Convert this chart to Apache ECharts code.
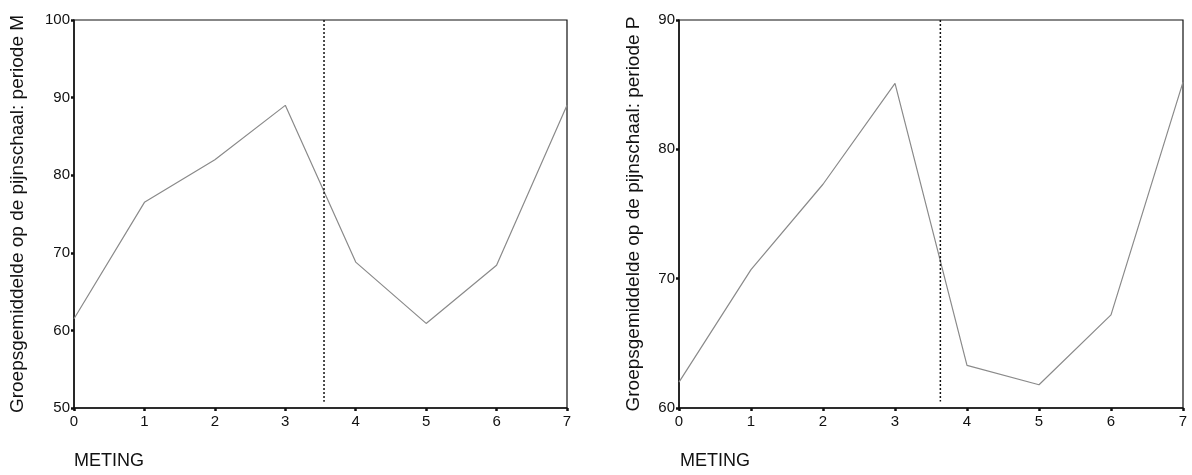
<!DOCTYPE html>
<html>
<head>
<meta charset="utf-8">
<style>
  html, body { margin: 0; padding: 0; background: #fff; }
  #chart { width: 1192px; height: 475px; }
</style>
<script src="https://cdn.jsdelivr.net/npm/echarts@6/dist/echarts.min.js"></script>
</head>
<body>
<div id="chart"></div>
<script>
// metingen 0..7
const meting = [0, 1, 2, 3, 4, 5, 6, 7];
// groepsgemiddelde periode M
const periodeM = [61.5, 76.5, 82.0, 89.0, 68.8, 60.9, 68.4, 89.0];
// groepsgemiddelde periode P
const periodeP = [62.0, 70.7, 77.3, 85.1, 63.3, 61.8, 67.2, 85.2];
// scheidingslijn (x, y-van, y-tot)
const scheidingM = [[3.55, 100], [3.55, 50.8]];
const scheidingP = [[3.63, 90], [3.63, 60.5]];

const fontFam = "'Liberation Sans', Arial, sans-serif";
const axisColor = "#111";

function xAxisFor(gridIndex) {
  return {
    type: "value",
    gridIndex: gridIndex,
    min: 0,
    max: 7,
    interval: 1,
    axisLine: { show: true, onZero: false, lineStyle: { color: axisColor, width: 1.5 } },
    axisTick: { show: true, length: 3, lineStyle: { color: axisColor, width: 2.5 } },
    axisLabel: { color: "#111", fontSize: 15, fontFamily: fontFam, margin: 6 },
    splitLine: { show: false },
  };
}

function yAxisFor(gridIndex, min, max, name, gap) {
  return {
    type: "value",
    gridIndex: gridIndex,
    min: min,
    max: max,
    interval: 10,
    name: name,
    nameLocation: "middle",
    nameGap: gap,
    nameTextStyle: { color: "#111", fontSize: 19, fontFamily: fontFam },
    axisLine: { show: true, onZero: false, lineStyle: { color: axisColor, width: 1.5 } },
    axisTick: { show: true, length: 3, lineStyle: { color: axisColor, width: 2.5 } },
    axisLabel: { color: "#111", fontSize: 15, fontFamily: fontFam, margin: 4 },
    splitLine: { show: false },
  };
}

const chart = echarts.init(document.getElementById("chart"), null, { renderer: "canvas" });

const option = {
  backgroundColor: "#fff",
  animation: false,
  grid: [
    { left: 74, top: 20, width: 493, height: 388, show: true, borderColor: axisColor, borderWidth: 1.2, backgroundColor: "transparent" },
    { left: 679, top: 20, width: 504, height: 388, show: true, borderColor: axisColor, borderWidth: 1.2, backgroundColor: "transparent" },
  ],
  xAxis: [xAxisFor(0), xAxisFor(1)],
  yAxis: [
    yAxisFor(0, 50, 100, "Groepsgemiddelde op de pijnschaal: periode M", 47),
    yAxisFor(1, 60, 90, "Groepsgemiddelde op de pijnschaal: periode P", 36),
  ],
  graphic: [
    { type: "text", left: 74, top: 452, style: { text: "METING", fontSize: 18, fontFamily: fontFam, fill: "#111" } },
    { type: "text", left: 680, top: 452, style: { text: "METING", fontSize: 18, fontFamily: fontFam, fill: "#111" } },
  ],
  series: [
    {
      type: "line",
      xAxisIndex: 0,
      yAxisIndex: 0,
      data: meting.map((m, i) => [m, periodeM[i]]),
      showSymbol: false,
      lineStyle: { color: "#8a8a8a", width: 1.2 },
    },
    {
      type: "line",
      xAxisIndex: 0,
      yAxisIndex: 0,
      data: scheidingM,
      showSymbol: false,
      lineStyle: { color: "#111", width: 1.5, type: [2, 2] },
    },
    {
      type: "line",
      xAxisIndex: 1,
      yAxisIndex: 1,
      data: meting.map((m, i) => [m, periodeP[i]]),
      showSymbol: false,
      lineStyle: { color: "#8a8a8a", width: 1.2 },
    },
    {
      type: "line",
      xAxisIndex: 1,
      yAxisIndex: 1,
      data: scheidingP,
      showSymbol: false,
      lineStyle: { color: "#111", width: 1.5, type: [2, 2] },
    },
  ],
};

chart.setOption(option);
</script>
</body>
</html>
